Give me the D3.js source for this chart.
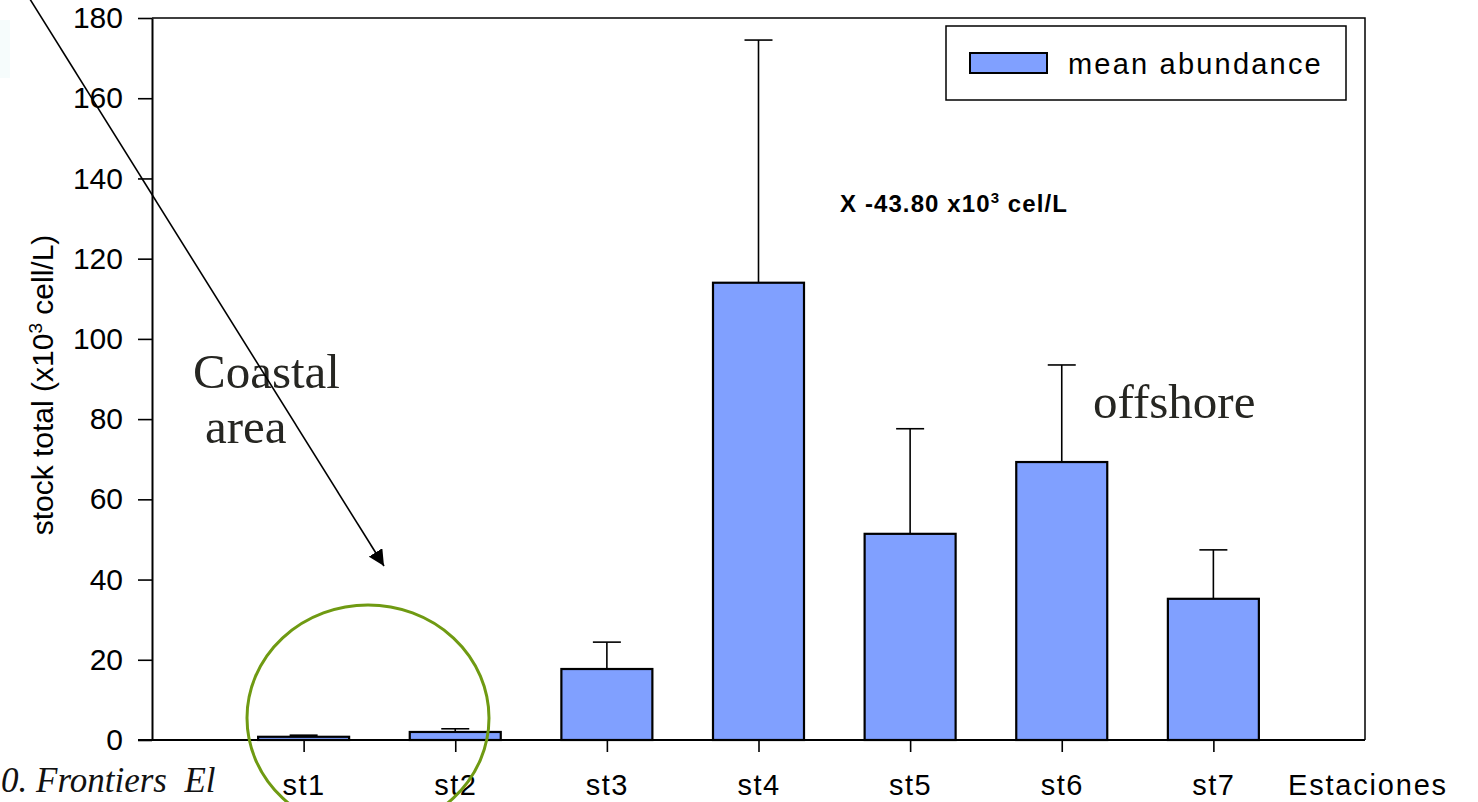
<!DOCTYPE html>
<html>
<head>
<meta charset="utf-8">
<script src="https://cdn.jsdelivr.net/npm/d3@7"></script>
<style>
  html, body { margin: 0; padding: 0; background: #fff; overflow: hidden; }
  svg { display: block; }
</style>
</head>
<body>
<svg id="chart" width="1478" height="802" font-family="Liberation Sans, Arial, sans-serif"></svg>
<script>
// Stations and mean abundance (x10^3 cell/L) with upper error (mean + SD)
const stations = ["st1", "st2", "st3", "st4", "st5", "st6", "st7"];
const meanAbundance = [0.8, 2.0, 17.7, 114.0, 51.4, 69.3, 35.2];
const errorTop = [1.2, 2.8, 24.4, 174.5, 77.6, 93.5, 47.4];
const yTicks = [0, 20, 40, 60, 80, 100, 120, 140, 160, 180];

(function () {
const svg = d3.select("#chart");
const pLeft = 152, pRight = 1365, pTop = 18, pBottom = 740;
const sans = "Liberation Sans, Arial, sans-serif";
const serif = "Liberation Serif, 'Times New Roman', serif";

const x = d3.scalePoint()
  .domain(["_a", ...stations, "_b"])
  .range([pLeft, pRight]);
const y = d3.scaleLinear().domain([0, 180]).range([pBottom, pTop]);
const barW = 91;

// faint slide block at the very left edge
svg.append("rect").attr("x", 0).attr("y", 20).attr("width", 10).attr("height", 58)
  .attr("fill", "#f6fcfc");

// plot frame (top and right)
svg.append("path")
  .attr("d", `M${pLeft},${pTop}H${pRight}V${pBottom}`)
  .attr("fill", "none").attr("stroke", "#000").attr("stroke-width", 1.5);

const data = stations.map((s, i) => ({ s, v: meanAbundance[i], e: errorTop[i] }));

// error bars (upper only)
const eg = svg.append("g");
eg.selectAll("line.stem").data(data).join("line").attr("class", "stem")
  .attr("x1", d => x(d.s)).attr("x2", d => x(d.s))
  .attr("y1", d => y(d.v)).attr("y2", d => y(d.e))
  .attr("stroke", "#000").attr("stroke-width", 1.6);
eg.selectAll("line.cap").data(data).join("line").attr("class", "cap")
  .attr("x1", d => x(d.s) - 14).attr("x2", d => x(d.s) + 14)
  .attr("y1", d => y(d.e)).attr("y2", d => y(d.e))
  .attr("stroke", "#000").attr("stroke-width", 1.6);

// bars
svg.append("g").selectAll("rect").data(data).join("rect")
  .attr("x", d => x(d.s) - barW / 2)
  .attr("y", d => y(d.v))
  .attr("width", barW)
  .attr("height", d => y(0) - y(d.v))
  .attr("fill", "#80a0ff")
  .attr("stroke", "#000").attr("stroke-width", 2.2);

// y axis
const yAxis = svg.append("g").attr("transform", `translate(${pLeft},0)`)
  .call(d3.axisLeft(y).tickValues(yTicks).tickSize(14).tickPadding(15).tickSizeOuter(0));
yAxis.attr("font-family", sans).attr("font-size", 30);
yAxis.select(".domain").attr("stroke-width", 2);
yAxis.selectAll(".tick line").attr("stroke-width", 1.6);
yAxis.selectAll(".tick text").attr("fill", "#000");

// x axis
const xAxis = svg.append("g").attr("transform", `translate(0,${pBottom})`)
  .call(d3.axisBottom(x).tickValues(stations).tickSize(12).tickPadding(22).tickSizeOuter(0));
xAxis.attr("font-family", sans).attr("font-size", 29);
xAxis.select(".domain").attr("d", `M${pLeft - 14},0H${pRight}`).attr("stroke-width", 2);
xAxis.selectAll(".tick line").attr("stroke-width", 1.6);
xAxis.selectAll(".tick text").attr("fill", "#000").attr("letter-spacing", 1.5);

svg.append("text").attr("x", 1288).attr("y", 795)
  .attr("font-size", 29).attr("letter-spacing", 1.8).text("Estaciones");

// y axis title
const yt = svg.append("text")
  .attr("transform", "translate(53,385) rotate(-90)")
  .attr("text-anchor", "middle").attr("font-size", 30);
yt.append("tspan").text("stock total (x10");
yt.append("tspan").attr("dy", -11).attr("font-size", 19).text("3");
yt.append("tspan").attr("dy", 11).text(" cell/L)");

// legend
svg.append("rect").attr("x", 946).attr("y", 26).attr("width", 400).attr("height", 74)
  .attr("fill", "#fff").attr("stroke", "#000").attr("stroke-width", 1.5);
svg.append("rect").attr("x", 970).attr("y", 53).attr("width", 77).attr("height", 20)
  .attr("fill", "#80a0ff").attr("stroke", "#000").attr("stroke-width", 2);
svg.append("text").attr("x", 1068).attr("y", 74).attr("font-size", 29)
  .attr("letter-spacing", 2.2).text("mean abundance");

// mean annotation
const ann = svg.append("text").attr("x", 840).attr("y", 212)
  .attr("font-size", 24).attr("font-weight", "bold").attr("letter-spacing", 1.1);
ann.append("tspan").text("X -43.80 x10");
ann.append("tspan").attr("dy", -9).attr("font-size", 15).text("3");
ann.append("tspan").attr("dy", 9).text(" cel/L");

// region labels
svg.append("text").attr("x", 193).attr("y", 388).attr("font-family", serif)
  .attr("font-size", 49).attr("fill", "#262622").text("Coastal");
svg.append("text").attr("x", 205).attr("y", 443).attr("font-family", serif)
  .attr("font-size", 49).attr("fill", "#262622").text("area");
svg.append("text").attr("x", 1093).attr("y", 418).attr("font-family", serif)
  .attr("font-size", 49).attr("fill", "#262622").text("offshore");

// highlight around the coastal stations
svg.append("ellipse").attr("cx", 368).attr("cy", 718).attr("rx", 121).attr("ry", 113)
  .attr("fill", "none").attr("stroke", "#6f9a12").attr("stroke-width", 3);

// pointer arrow
svg.append("defs").append("marker")
  .attr("id", "head").attr("viewBox", "0 0 10 10").attr("refX", 10).attr("refY", 5)
  .attr("markerWidth", 16).attr("markerHeight", 16).attr("markerUnits", "userSpaceOnUse")
  .attr("orient", "auto")
  .append("path").attr("d", "M0,0L10,5L0,10Z").attr("fill", "#000");
svg.append("line").attr("x1", 28).attr("y1", -4).attr("x2", 384).attr("y2", 566)
  .attr("stroke", "#000").attr("stroke-width", 1.6).attr("marker-end", "url(#head)");

// citation fragment at the lower left
svg.append("text").attr("x", 1).attr("y", 792)
  .attr("font-family", serif).attr("font-style", "italic").attr("font-size", 35)
  .attr("fill", "#111").style("white-space", "pre").text("0. Frontiers  El");
})();
</script>
</body>
</html>
